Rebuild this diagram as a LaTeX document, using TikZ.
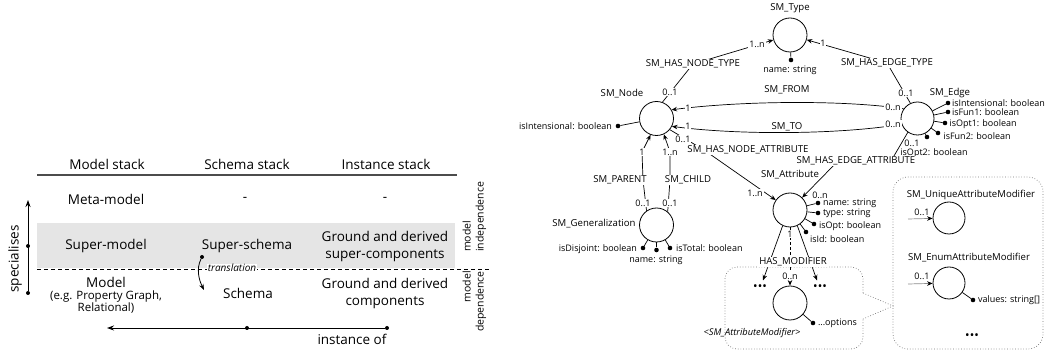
\documentclass[tikz,border=0pt]{standalone}
\usepackage{fontspec}
\setmainfont{Open Sans}
\usetikzlibrary{arrows.meta,backgrounds}
\begin{document}
\begin{tikzpicture}[x=1pt,y=-1pt,
  big/.style={font=\fontsize{13.5}{17}\selectfont, inner sep=0pt, align=center},
  sm/.style={font=\fontsize{9}{11}\selectfont, inner sep=0.8pt},
  nm/.style={font=\fontsize{9.6}{11}\selectfont, inner sep=0.8pt},
  lab/.style={nm, fill=white},
  mult/.style={sm, fill=white},
  vert/.style={rotate=90, inner sep=0pt, font=\fontsize{10.5}{13}\selectfont},
  ent/.style={circle, draw, line width=0.8pt, minimum size=34pt, inner sep=0pt},
  dotn/.style={circle, fill, inner sep=0pt, minimum size=4.6pt},
  ldot/.style={circle, fill, inner sep=0pt, minimum size=4pt},
  tdots/.style={font=\fontsize{12}{12}\selectfont, inner sep=0.5pt},
  conn/.style={line width=0.7pt},
  arr/.style={conn, -{Stealth[length=5.5pt,width=4.5pt]}},
  arrL/.style={line width=0.9pt, -{Stealth[length=7pt,width=5pt]}},
  boxst/.style={dotted, draw=black!55, line width=0.7pt}]
\useasboundingbox (0,0) rectangle (1045,352);

% ---------------- left table ----------------
\node[big] (hModel) at (107,164) {Model stack};
\node[big] (hSchema) at (247,164) {Schema stack};
\node[big] (hInst) at (386,164) {Instance stack};
\coordinate (ruleL) at (37,175);
\coordinate (ruleR) at (457,175);
\node[big] (meta) at (106,199) {Meta-model};
\node[big] (metaS) at (245,199) {-};
\node[big] (metaI) at (385,199) {-};
\node[big] (super) at (106,246) {Super-model};
\node[big] (superS) at (247,246) {Super-schema};
\node[big] (superI) at (385,246.5) {Ground and derived\\super-components};
\node[big] (model) at (106,282) {Model};
\node[font=\fontsize{11.5}{12.5}\selectfont, align=center, inner sep=0pt] (modelEg) at (106,302) {(e.g. Property Graph,\\Relational)};
\node[big] (schema) at (248,293) {Schema};
\node[big] (compI) at (385,293) {Ground and derived\\components};
\node[vert, anchor=west, align=left] (indep) at (474.5,252) {model\\independence};
\node[vert, anchor=east, align=right] (dep) at (474.5,271) {model\\dependence};
\coordinate (dashL) at (37,269);
\coordinate (dashR) at (490,269);
\node[ldot] (trS) at (202,257) {};
\coordinate (trE) at (204,290);
\node[font=\itshape\fontsize{10}{12}\selectfont, fill=white, inner sep=0.6pt] (trLab) at (232,268) {translation};
\node[ldot] (spB) at (28,293) {};
\node[ldot] (spM) at (28,246) {};
\coordinate (spT) at (28,200);
\node[big, rotate=90] (spec) at (15,259) {specialises};
\node[ldot] (inR) at (387,328) {};
\node[ldot] (inM) at (247,328) {};
\coordinate (inL) at (107,328);
\node[big] (instof) at (352,339) {instance of};

% ---------------- right diagram ----------------
\node[ent] (type) at (790,35) {};
\node[nm] (typeL) at (790,8) {SM\_Type};
\node[dotn] (typeD) at (791,60) {};
\node[sm] (typeA) at (790,70) {name: string};

\node[ent] (nnode) at (656.5,118.5) {};
\node[nm] (nodeL) at (622,94) {SM\_Node};
\node[dotn] (nodeD) at (618,126) {};
\node[sm, anchor=east] (nodeA) at (613,126) {isIntensional: boolean};

\node[ent, minimum size=33pt] (edge) at (917.5,118.5) {};
\node[nm] (edgeL) at (950,93) {SM\_Edge};
\node[dotn] (eD1) at (948,103) {};
\node[dotn] (eD2) at (948,112) {};
\node[dotn] (eD3) at (945,123) {};
\node[dotn] (eD4) at (938,133) {};
\node[dotn] (eD5) at (927,137) {};
\node[sm, anchor=west] (eA1) at (951,103) {isIntensional: boolean};
\node[sm, anchor=west] (eA2) at (951,112.5) {isFun1: boolean};
\node[sm, anchor=west] (eA3) at (948.5,124) {isOpt1: boolean};
\node[sm, anchor=west] (eA4) at (942.5,136) {isFun2: boolean};
\node[sm] (eA5) at (934,153) {isOpt2: boolean};

\node[ent] (attr) at (790,210) {};
\node[nm] (attrL) at (790,175) {SM\_Attribute};
\node[dotn] (aD1) at (818,203) {};
\node[dotn] (aD2) at (818,213) {};
\node[dotn] (aD3) at (814,224) {};
\node[dotn] (aD4) at (806,232) {};
\node[sm, anchor=west] (aA1) at (822,203) {name: string};
\node[sm, anchor=west] (aA2) at (822,213) {type: string};
\node[sm, anchor=west] (aA3) at (818,226) {isOpt: boolean};
\node[sm, anchor=west] (aA4) at (809,239) {isId: boolean};

\node[ent] (gen) at (656.5,225) {};
\node[nm] (genL) at (594,224) {SM\_Generalization};
\node[dotn] (gD1) at (643,248) {};
\node[dotn] (gD2) at (656.5,250) {};
\node[dotn] (gD3) at (670,248) {};
\node[sm, anchor=east] (gA1) at (638,249) {isDisjoint: boolean};
\node[sm] (gA2) at (656,260) {name: string};
\node[sm, anchor=west] (gA3) at (675,248) {isTotal: boolean};

\node[ent] (mod) at (790,303) {};
\node[dotn] (modD) at (813,323) {};
\node[sm, anchor=west] (modA) at (817,323) {...options};
\node[nm, font=\itshape\fontsize{9.3}{11}\selectfont] (modL) at (752,333) {<SM\_AttributeModifier>};

\node[ent, minimum size=32pt] (uniq) at (949,218) {};
\node[nm] (uniqL) at (971,195) {SM\_UniqueAttributeModifier};
\coordinate (uniqIn) at (908,219);
\node[sm] (uniqM) at (922,212) {0..1};
\node[ent, minimum size=32pt] (enum) at (949,283) {};
\node[nm] (enumL) at (969,258) {SM\_EnumAttributeModifier};
\coordinate (enumIn) at (908,284);
\node[sm] (enumM) at (922,276) {0..1};
\node[dotn] (enumD) at (973,300) {};
\node[sm, anchor=west] (enumA) at (977,300) {values: string[]};
\node[tdots] (edots) at (972,337) {•••};

% connector labels
\node[lab] (hnt) at (693,64) {SM\_HAS\_NODE\_TYPE};
\node[mult] (n01) at (670,92) {0..1};
\node[mult] (t1n) at (757,44) {1..n};
\node[lab] (het) at (887,63) {SM\_HAS\_EDGE\_TYPE};
\node[mult] (e01) at (906,93) {0..1};
\node[mult] (t1) at (823,43) {1};
\node[nm] (fromL) at (787,90) {SM\_FROM};
\node[mult] (from0n) at (893,107) {0..n};
\node[mult] (from1) at (688,108) {1};
\node[nm] (toL) at (787,127) {SM\_TO};
\node[mult] (to0n) at (893,124) {0..n};
\node[mult] (to1) at (688,126) {1};
\node[lab] (hna) at (748,150) {SM\_HAS\_NODE\_ATTRIBUTE};
\node[mult] (hna01) at (683,139) {0..1};
\node[mult] (hna1n) at (755,193) {1..n};
\node[lab] (hea) at (856,161) {SM\_HAS\_EDGE\_ATTRIBUTE};
\node[mult] (hea01) at (912,143) {0..1};
\node[mult] (hea0n) at (820,195) {0..n};
\node[lab] (par) at (620,180) {SM\_PARENT};
\node[lab] (chi) at (688,180) {SM\_CHILD};
\node[mult] (p01) at (643,203) {0..1};
\node[mult] (p1) at (642,152) {1};
\node[mult] (c01) at (670,203) {0..1};
\node[mult] (c1n) at (670,152) {1..n};
\node[mult] (hm1) at (790,234) {1};
\node[lab] (hm) at (793,262) {HAS\_MODIFIER};
\node[mult] (hm0n) at (790,276) {0..n};
\node[tdots] (dotsL) at (760,288) {•••};
\node[tdots] (dotsR) at (820,288) {•••};

\begin{pgfonlayer}{background}
  \fill[black!10] (37,223) rectangle (455,268);
  \draw[black!70, line width=1.2pt] (ruleL) -- (ruleR);
  \draw[line width=0.8pt, dash pattern=on 4pt off 3pt] (dashL) -- (dashR);
  \draw[arrL] (spB) -- (spT);
  \draw[arrL] (inR) -- (inL);
  \draw[line width=0.8pt, -{Stealth[length=6pt,width=4.5pt]}] (trS) .. controls +(-6,12) and +(-5,-10) .. (trE);

  \draw[arr] (nnode.70) -- (hnt.center) -- (type);
  \draw[arr] (edge.115) -- (het.center) -- (type);
  \draw[arr] (edge.145) .. controls +(-60,-9) and +(70,-9) .. (nnode.30);
  \draw[arr] (edge.200) .. controls +(-60,10) and +(70,9) .. (nnode.-27);
  \draw[arr] (nnode.-40) -- ([xshift=-44pt]hna.center) -- (attr);
  \draw[arr] (edge.-125) -- ([xshift=35pt]hea.center) -- ([xshift=-18pt]hea.center) -- (attr);
  \draw[arr] (gen.125) -- ([xshift=23pt]par.center) -- (p1.center) -- (nnode.-110);
  \draw[arr] (gen.50) -- ([xshift=-18pt]chi.center) -- (c1n.center) -- (nnode.-65);
  \draw[arr] (attr.-115) -- ([xshift=3pt,yshift=4pt]dotsL.north);
  \draw[arr] (attr.-65) -- ([xshift=-3pt,yshift=4pt]dotsR.north);
  \draw[arr, dash pattern=on 3pt off 2pt] (attr.south) -- (mod.north);
  \draw[conn, draw=black!45, -{Stealth[length=5.5pt,width=4.5pt,black]}] (uniqIn) -- (uniq);
  \draw[conn, draw=black!45, -{Stealth[length=5.5pt,width=4.5pt,black]}] (enumIn) -- (enum);

  \draw[conn] (type) -- (typeD);
  \draw[conn] (nnode) -- (nodeD);
  \foreach \d in {eD1,eD2,eD3,eD4,eD5} \draw[conn] (edge) -- (\d);
  \foreach \d in {aD1,aD2,aD3,aD4} \draw[conn] (attr) -- (\d);
  \foreach \d in {gD1,gD2,gD3} \draw[conn] (gen) -- (\d);
  \draw[conn] (mod) -- (modD);
  \draw[conn] (enum) -- (enumD);

  \draw[boxst, rounded corners=12pt] (863,293) -- (863,267) -- (725,267) -- (725,349) -- (863,349) -- (863,319);
  \draw[boxst] (863,293) -- (893,306) -- (863,319);
  \draw[boxst, rounded corners=15pt] (893,177) rectangle (1043,349);
\end{pgfonlayer}
\end{tikzpicture}
\end{document}
